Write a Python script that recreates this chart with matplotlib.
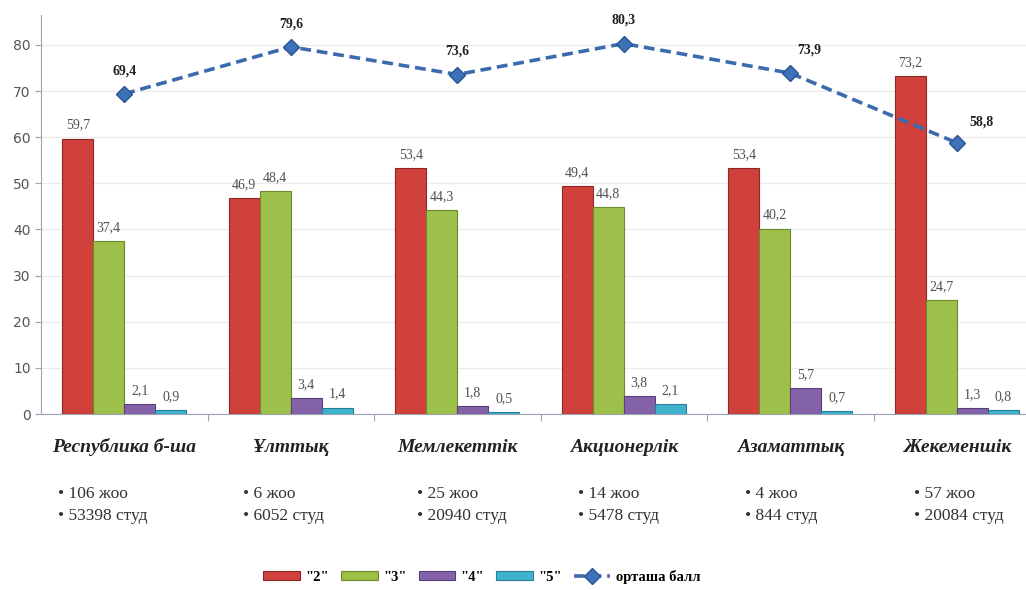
import matplotlib.pyplot as plt
import numpy as np

categories = ['Республика б-ша', 'Ұлттық', 'Мемлекеттік', 'Акционерлік', 'Азаматтық', 'Жекеменшік']
info_lines = [
    ['• 106 жоо', '• 53398 студ'],
    ['• 6 жоо', '• 6052 студ'],
    ['• 25 жоо', '• 20940 студ'],
    ['• 14 жоо', '• 5478 студ'],
    ['• 4 жоо', '• 844 студ'],
    ['• 57 жоо', '• 20084 студ'],
]
grade_names = ['"2"', '"3"', '"4"', '"5"']
grade_2 = [59.7, 46.9, 53.4, 49.4, 53.4, 73.2]
grade_3 = [37.4, 48.4, 44.3, 44.8, 40.2, 24.7]
grade_4 = [2.1, 3.4, 1.8, 3.8, 5.7, 1.3]
grade_5 = [0.9, 1.4, 0.5, 2.1, 0.7, 0.8]
avg_name = 'орташа балл'
avg_score = [69.4, 79.6, 73.6, 80.3, 73.9, 58.8]

colors = ['#D0413C', '#9DC04A', '#8462A8', '#3FB3CE']
edges = ['#8E2623', '#6A8A2C', '#593E7A', '#2A7E93']
line_color = '#3B6BAE'
serif = 'Liberation Serif'


def fmt(v):
    return f'{v:.1f}'.replace('.', ',')


fig = plt.figure(figsize=(10.26, 5.9), dpi=100)
ax = fig.add_axes([41 / 1026, 176 / 590, 985 / 1026, 399 / 590])

x = np.arange(len(categories))
w = 0.186
series = [grade_2, grade_3, grade_4, grade_5]
handles = []
for i, vals in enumerate(series):
    bars = ax.bar(x + (i - 1.5) * w, vals, w, color=colors[i], edgecolor=edges[i],
                  linewidth=0.8, label=grade_names[i], zorder=3)
    handles.append(bars)
    ax.bar_label(bars, labels=[fmt(v) for v in vals], padding=5, fontsize=10,
                 family=serif, color='#505050')

line, = ax.plot(x, avg_score, color=line_color, lw=2.6, dashes=(3.0, 1.6), marker='D',
                markersize=8, markerfacecolor='#3E72B8', markeredgecolor='#2B5590',
                label=avg_name, zorder=4)
handles.append(line)
label_offsets = [(0, 12), (0, 12), (0, 12), (0, 12), (14, 12), (18, 10)]
for xi, v, off in zip(x, avg_score, label_offsets):
    ax.annotate(fmt(v), (xi, v), xytext=off, textcoords='offset points',
                ha='center', va='bottom', fontsize=10, family=serif,
                fontweight='bold', color='#222222')

ax.set_ylim(0, 86.5)
ax.set_xlim(-0.5, 5.5 - 14 / 166.5)
ax.set_yticks(range(0, 90, 10))
ax.tick_params(axis='y', labelsize=10, labelcolor='#555555', color='#9aa3b5', length=4)
ax.yaxis.grid(True, color='#ececec', lw=1, zorder=0)
ax.set_axisbelow(True)

ax.set_xticks(x[:-1] + 0.5)
ax.set_xticklabels([])
ax.tick_params(axis='x', color='#9aa3b5', length=5)

for s in ['top', 'right']:
    ax.spines[s].set_visible(False)
ax.spines['left'].set_color('#9aa3b5')
ax.spines['bottom'].set_color('#9aa3b5')

# category names under the axis, then the counts block (left shift in px)
info_shift = [66, 48, 40, 46, 45, 43]
tr = ax.get_xaxis_transform()
for xi, name, lines, sh in zip(x, categories, info_lines, info_shift):
    ax.text(xi, -0.083, name, transform=tr, ha='center', va='center', fontsize=14,
            family=serif, style='italic', fontweight='bold', color='#222222')
    ax.text(xi - sh / 166.5, -0.228, '\n'.join(lines), transform=tr, ha='left',
            va='center', fontsize=12.5, family=serif, color='#333333', linespacing=1.45)

fig.legend(handles=handles, loc='center', bbox_to_anchor=(482 / 1026, 1 - 577 / 590),
           ncol=5, frameon=False, prop={'family': serif, 'weight': 'bold', 'size': 10.5},
           handlelength=2.5, handleheight=0.6, columnspacing=0.8, handletextpad=0.4)

fig.savefig('out.png', dpi=100)
